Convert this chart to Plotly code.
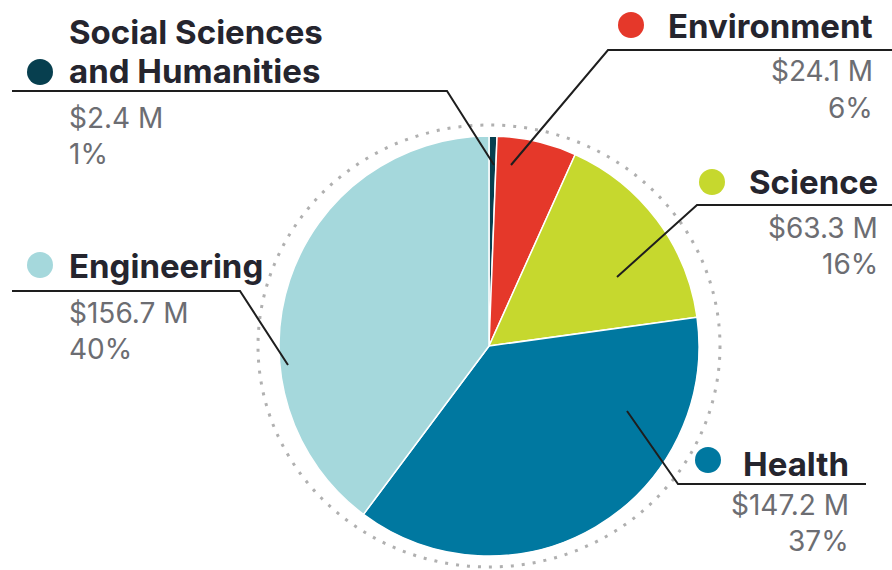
import plotly.graph_objects as go

# ---- data ----
categories = ["Social Sciences and Humanities", "Environment", "Science", "Health", "Engineering"]
label_lines = [["Social Sciences", "and Humanities"], ["Environment"], ["Science"], ["Health"], ["Engineering"]]
values_musd = [2.4, 24.1, 63.3, 147.2, 156.7]
pct_labels = ["1%", "6%", "16%", "37%", "40%"]
colors = ["#073f4f", "#e5382a", "#c6d82e", "#0078a0", "#a5d8dc"]

W, H = 892, 570
def px(x):
    return x / W
def py(y):
    return 1 - y / H

cx, cy, r = 489, 346, 210

fig = go.Figure()
fig.add_trace(go.Pie(
    labels=categories,
    values=values_musd,
    sort=False,
    direction="clockwise",
    rotation=0,
    marker=dict(colors=colors, line=dict(color="white", width=1.5)),
    textinfo="none",
    hovertemplate="%{label}<br>$%{value} M<br>%{percent}<extra></extra>",
    showlegend=False,
    domain=dict(x=[px(cx - r), px(cx + r)], y=[py(cy + r), py(cy - r)]),
))

LABEL_FONT = dict(family="Inter", size=33, color="#25252e", weight=700)
VALUE_FONT = dict(family="Inter", size=28, color="#6c6d72", weight=400)

# layout positions of each callout (pixel coords): text x, anchor, label baselines, value baselines,
# bullet centre, leader polyline
callouts = [
    dict(tx=67, anchor="left", lab_y=[43, 82], val_y=[127, 163], dot=(40, 72),
         line=[(12, 91), (447, 91), (494, 165)]),
    dict(tx=875, anchor="right", lab_y=[37], val_y=[80, 117], dot=(631, 25),
         line=[(892, 50), (608, 50), (511, 165)]),
    dict(tx=880, anchor="right", lab_y=[193], val_y=[237, 273], dot=(712, 182),
         line=[(892, 205), (697, 205), (617, 277)]),
    dict(tx=851, anchor="right", lab_y=[475], val_y=[514, 550], dot=(708, 460),
         line=[(866, 484), (678, 484), (627, 411)]),
    dict(tx=67, anchor="left", lab_y=[277], val_y=[322, 358], dot=(40, 265),
         line=[(12, 291), (240, 291), (288, 365)]),
]

annotations = []
shapes = []

# dotted outer ring
shapes.append(dict(type="circle", xref="paper", yref="paper",
                   x0=px(cx - 231), x1=px(cx + 231), y0=py(cy + 221), y1=py(cy - 221),
                   line=dict(color="#b0b0b0", width=3, dash="3px,8px"), layer="below"))

for i, c in enumerate(callouts):
    for line_txt, by in zip(label_lines[i], c["lab_y"]):
        annotations.append(dict(text=line_txt, x=px(c["tx"]), y=py(by - 11), xref="paper", yref="paper",
                                xanchor=c["anchor"], yanchor="middle", showarrow=False, font=LABEL_FONT))
    val_txt = [f"${values_musd[i]} M", pct_labels[i]]
    for t, by in zip(val_txt, c["val_y"]):
        annotations.append(dict(text=t, x=px(c["tx"]), y=py(by - 9), xref="paper", yref="paper",
                                xanchor=c["anchor"], yanchor="middle", showarrow=False, font=VALUE_FONT))
    dx, dy = c["dot"]
    shapes.append(dict(type="circle", xref="paper", yref="paper",
                       x0=px(dx - 13), x1=px(dx + 13), y0=py(dy + 13), y1=py(dy - 13),
                       fillcolor=colors[i], line=dict(width=0)))
    pts = c["line"]
    path = "M " + " L ".join(f"{px(x)},{py(y)}" for x, y in pts)
    shapes.append(dict(type="path", xref="paper", yref="paper", path=path,
                       line=dict(color="#1e1e1e", width=2), layer="above"))

fig.update_layout(
    width=W, height=H,
    margin=dict(l=0, r=0, t=0, b=0),
    paper_bgcolor="white", plot_bgcolor="white",
    annotations=annotations, shapes=shapes,
)

fig.write_html("out.html")
